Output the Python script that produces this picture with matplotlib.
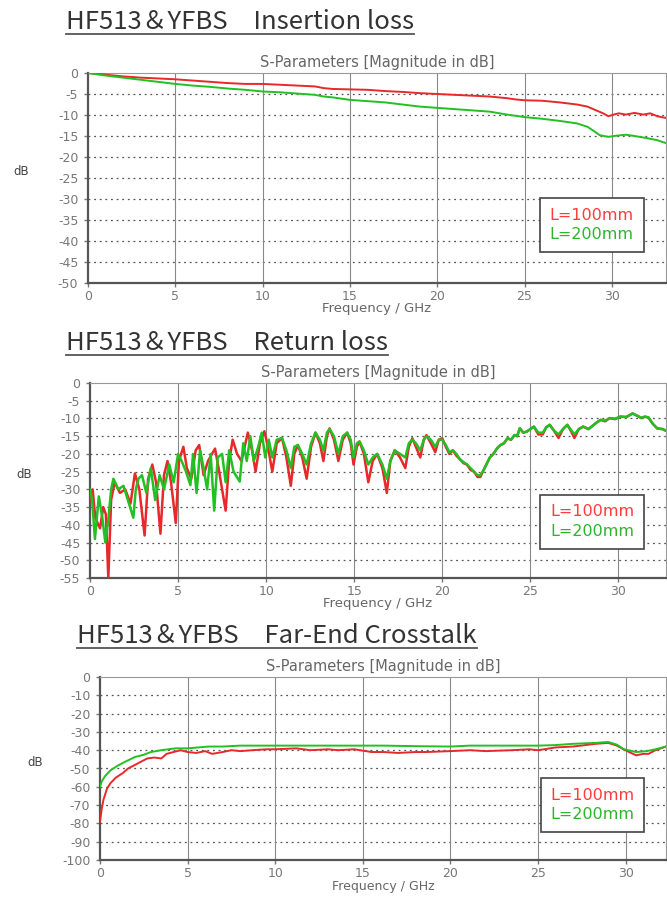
import matplotlib
matplotlib.use('Agg')
import matplotlib.pyplot as plt
from matplotlib.lines import Line2D

# Insertion loss
il_freq_100 = [0, 1, 2, 3, 4, 5, 6, 7, 8, 9, 10, 11, 12, 13, 13.5, 14, 15, 16, 17, 18, 19, 20, 21, 22, 23, 24,
               24.5, 25, 26, 27, 28, 28.6, 29.1, 29.5, 29.8, 30.1, 30.4, 30.8, 31.3, 31.8, 32.2, 32.6, 33.1]
il_db_100 = [0, -0.4, -0.8, -1.1, -1.3, -1.5, -1.8, -2.1, -2.4, -2.6, -2.6, -2.8, -3.0, -3.2, -3.6, -3.8, -3.9,
             -4.0, -4.3, -4.5, -4.8, -5.0, -5.2, -5.4, -5.6, -6.0, -6.3, -6.5, -6.6, -7.0, -7.5, -8.0, -8.9,
             -9.6, -10.3, -9.9, -9.6, -9.9, -9.5, -9.9, -9.6, -10.3, -10.7]
il_freq_200 = [0, 1, 2, 3, 4, 5, 6, 7, 8, 9, 10, 11, 12, 13, 13.5, 14, 15, 16, 17, 18, 19, 20, 21, 22, 23, 24,
               25, 26, 27, 28, 28.6, 29.0, 29.3, 29.8, 30.3, 30.8, 31.3, 32.0, 32.6, 33.1]
il_db_200 = [0, -0.6, -1.1, -1.6, -2.1, -2.6, -3.0, -3.3, -3.7, -4.0, -4.4, -4.6, -4.9, -5.2, -5.6, -5.8, -6.4,
             -6.7, -7.0, -7.5, -8.0, -8.3, -8.6, -8.9, -9.2, -9.9, -10.5, -10.9, -11.4, -12.0, -12.8, -13.9,
             -14.8, -15.2, -14.9, -14.7, -15.0, -15.5, -16.0, -16.7]

# Return loss
rl_freq_100 = [0.0, 0.15, 0.3, 0.57, 0.75, 0.9, 1.04, 1.2, 1.4, 1.7, 2.0, 2.3, 2.55, 2.8, 3.1, 3.3, 3.54, 3.75,
               4.0, 4.2, 4.4, 4.6, 4.87, 5.05, 5.3, 5.5, 5.75, 6.0, 6.2, 6.45, 6.7, 7.1, 7.3, 7.7, 7.9, 8.1,
               8.35, 8.6, 8.96, 9.2, 9.4, 9.65, 9.9, 10.1, 10.35, 10.6, 10.9, 11.15, 11.4, 11.6, 11.8, 12.05,
               12.3, 12.55, 12.8, 13.05, 13.25, 13.45, 13.6, 13.85, 14.1, 14.35, 14.6, 14.8, 14.96, 15.15,
               15.3, 15.55, 15.8, 16.05, 16.3, 16.6, 16.85, 17.05, 17.3, 17.6, 17.9, 18.1, 18.3, 18.5, 18.75,
               18.95, 19.1, 19.35, 19.6, 19.8, 20.0, 20.2, 20.4, 20.6, 20.8, 21.0, 21.2, 21.4, 21.6, 21.8,
               22.0, 22.16, 22.3, 22.5, 22.7, 22.9, 23.1, 23.3, 23.5, 23.7, 23.9, 24.1, 24.25, 24.4, 24.6,
               24.8, 25.0, 25.2, 25.45, 25.7, 25.9, 26.1, 26.35, 26.6, 26.85, 27.1, 27.3, 27.5, 27.75, 28.0,
               28.3, 28.6, 28.8, 29.0, 29.25, 29.5, 29.8, 30.1, 30.45, 30.8, 31.05, 31.3, 31.5, 31.7, 31.95,
               32.2, 32.5, 32.8]
rl_db_100 = [-33, -30, -38, -41, -35, -37, -55, -33, -28, -31, -30, -34, -25.5, -30, -43, -27, -23, -28,
             -42.5, -26, -22, -28, -39.5, -22, -18, -24, -27, -19, -17.5, -26, -22, -18.5, -24, -36, -22, -16,
             -20, -22, -14, -19, -25, -17, -13.6, -18, -25, -17, -15.5, -21, -29, -20, -17.5, -21,
             -27, -18, -14, -17, -22, -15, -12.8, -16, -22, -16, -14, -17, -23, -18,
             -16.5, -20, -28, -22, -20, -24, -31, -22, -19, -21, -24, -18, -15.6, -18, -21,
             -16, -14.7, -17, -19.5, -16, -15.6, -18, -20, -19, -20.5, -21.5, -22.6, -23, -24.5, -25,
             -26.5, -26.5, -25, -23, -21, -20, -18.5, -17.5, -17, -15.6, -16, -14.7, -15, -12.8, -14,
             -13.7, -13, -12.3, -14.5, -14.5, -12.5, -11.8, -13.5, -15.5, -13, -11.8, -13.5, -15.5, -13, -12.3,
             -13, -11.8, -11, -10.4, -10.8, -9.9, -10.2, -9.5, -9.6, -8.6, -9.2, -9.9, -9.5, -9.7, -11.5,
             -12.8, -13, -13.7]
rl_freq_200 = [0.0, 0.12, 0.28, 0.5, 0.7, 0.87, 1.05, 1.2, 1.33, 1.6, 1.9, 2.18, 2.46, 2.6, 2.75, 2.95, 3.2,
               3.45, 3.7, 3.95, 4.2, 4.5, 4.75, 5.0, 5.2, 5.45, 5.7, 5.85, 6.05, 6.25, 6.45, 6.65, 6.85, 7.05,
               7.25, 7.5, 7.7, 7.9, 8.15, 8.5, 8.7, 8.9, 9.1, 9.3, 9.55, 9.75, 9.95, 10.15, 10.35, 10.6, 10.9,
               11.15, 11.4, 11.6, 11.8, 12.05, 12.3, 12.55, 12.8, 13.05, 13.25, 13.45, 13.6, 13.85, 14.1,
               14.35, 14.6, 14.8, 14.96, 15.15, 15.3, 15.55, 15.8, 16.05, 16.3, 16.6, 16.85, 17.05, 17.3,
               17.6, 17.9, 18.1, 18.3, 18.5, 18.75, 18.95, 19.1, 19.35, 19.6, 19.8, 20.0, 20.2, 20.4, 20.6,
               20.8, 21.0, 21.2, 21.4, 21.6, 21.8, 22.0, 22.16, 22.3, 22.5, 22.7, 22.9, 23.1, 23.3, 23.5,
               23.7, 23.9, 24.1, 24.25, 24.4, 24.6, 24.8, 25.0, 25.2, 25.45, 25.7, 25.9, 26.1, 26.35, 26.6,
               26.85, 27.1, 27.3, 27.5, 27.75, 28.0, 28.3, 28.6, 28.8, 29.0, 29.25, 29.5, 29.8, 30.1, 30.45,
               30.8, 31.05, 31.3, 31.5, 31.7, 31.95, 32.2, 32.5, 32.8]
rl_db_200 = [-30, -33, -44, -32, -38, -45, -38, -30, -27, -30, -29, -33.5, -38, -30, -27, -26, -31,
             -24, -33, -26, -30, -23, -28, -20, -22, -25, -28.8, -20, -31, -19, -24, -30, -20, -36,
             -21, -20, -28, -19, -25, -27.8, -17, -22, -15, -22, -18, -14, -21, -16, -21, -16, -15.5,
             -19, -24, -18, -17.5, -20, -23, -17, -14, -16, -19, -14, -13, -15, -20,
             -15, -14, -16, -21, -17, -16.5, -19, -23, -21, -20, -23, -27, -22, -19,
             -20, -21, -17, -16, -17, -19, -16, -15, -16, -18, -16, -16, -17.5, -19.5, -19,
             -20, -21.5, -22.3, -23, -24, -25, -26, -26, -25, -23, -21, -20, -18.5, -17.5, -17,
             -15.6, -16, -14.7, -15, -12.8, -14, -13.7, -13, -12.3, -14, -14, -12.5, -11.8, -13.5, -14.5,
             -13, -11.8, -13.2, -14.5, -13, -12.3, -13, -11.8, -11, -10.4, -10.6, -9.9, -10.1, -9.5, -9.6,
             -8.6, -9.2, -9.8, -9.5, -9.7, -11.5, -12.8, -13, -13.7]

# Far-end crosstalk
xt_freq_100 = [0, 0.1, 0.2, 0.4, 0.6, 0.9, 1.3, 1.6, 2.0, 2.4, 2.7, 3.1, 3.5, 3.8, 4.2, 4.6, 5.0, 5.5, 6.0,
               6.4, 7, 7.5, 8, 8.7, 9.5, 10, 11.2, 12, 13, 13.6, 14.5, 15.5, 16.2, 17, 18, 18.6, 20, 21.1,
               22, 23.5, 24.5, 25, 26, 27, 28.3, 29.0, 29.5, 29.9, 30.3, 30.6, 31.0, 31.3, 31.7, 32.0, 32.3]
xt_db_100 = [-79, -72, -67, -61, -58, -55, -52.5, -50, -48, -46, -44.5, -44, -44.5, -42, -41, -40, -41, -41.5,
             -40.5, -42, -41, -40, -40.5, -40, -39.5, -39.5, -39, -40, -39.5, -40, -39.5, -41, -41, -41.5, -41,
             -41, -40.5, -40, -40.5, -40, -39.5, -40, -38.5, -38, -36.5, -36, -37.5, -39.6, -41.5, -42.8, -42,
             -42, -40, -39, -38]
xt_freq_200 = [0, 0.1, 0.3, 0.6, 1.0, 1.5, 2.0, 2.5, 2.9, 3.5, 4.3, 5, 6.2, 7, 8, 9, 10, 11.2, 13, 14, 16.2,
               18, 20, 21.1, 23, 25, 26, 27, 28.3, 29.0, 29.5, 29.9, 30.6, 31.2, 31.7, 32.3]
xt_db_200 = [-60, -57, -54, -51, -48.5, -46, -43.7, -42.5, -41, -40, -39, -39, -38, -38, -37.5, -37.5, -37.5,
             -37.5, -37.5, -37.5, -37.5, -37.8, -38, -37.5, -37.5, -37.5, -37.2, -36.5, -36, -35.5, -37, -39.5,
             -41, -40.5, -39.5, -38]

titles = ['HF513＆YFBS\u3000Insertion loss', 'HF513＆YFBS\u3000Return loss', 'HF513＆YFBS\u3000Far-End Crosstalk']
labels = ['L=100mm', 'L=200mm']

RED = '#e8282a'
GREEN = '#22c022'

fig = plt.figure(figsize=(6.67, 8.97), dpi=100)
W, H = 667, 897


def px_axes(left, top, right, bottom):
    return fig.add_axes([left / W, 1 - bottom / H, (right - left) / W, (bottom - top) / H])


def style(ax, xmax, ymin, ystep):
    ax.set_xlim(0, xmax)
    ax.set_ylim(ymin, 0)
    ax.set_xticks(range(0, 35, 5))
    ax.set_yticks(range(0, ymin - 1, -ystep))
    ax.set_xticklabels([str(v) for v in range(0, 35, 5)])
    ax.set_yticklabels([str(v) for v in range(0, ymin - 1, -ystep)])
    ax.tick_params(labelsize=9, colors='#777', length=3, width=1, pad=4)
    ax.tick_params(axis='x', pad=2)
    for lab in ax.get_xticklabels() + ax.get_yticklabels():
        lab.set_color('#777')
    for yv in range(-ystep, ymin - 1, -ystep):
        ax.axhline(yv, color='#555', lw=0.9, ls=(0, (1.5, 3)), zorder=1)
    for xv in range(5, 35, 5):
        ax.axvline(xv, color='#888', lw=0.8, zorder=1)
    ax.spines['left'].set_color('#555')
    ax.spines['left'].set_linewidth(1.6)
    ax.spines['bottom'].set_color('#555')
    ax.spines['bottom'].set_linewidth(1.6)
    ax.spines['top'].set_color('#999')
    ax.spines['right'].set_color('#999')
    ax.set_title('S-Parameters [Magnitude in dB]', fontsize=10.5, color='#666', pad=4)
    ax.set_xlabel('Frequency / GHz', fontsize=9.5, color='#666', labelpad=-1)
    ax.set_ylabel('dB', fontsize=8.5, color='#444', rotation=0, labelpad=0)
    ax.yaxis.set_label_coords(-0.115, 0.5)
    handles = [Line2D([], [], color='none'), Line2D([], [], color='none')]
    leg = ax.legend(handles, labels, loc='lower right', bbox_to_anchor=(0.975, 0.11), fontsize=11.5,
                    handlelength=0, handletextpad=0, labelcolor=['#ff3b3b', '#2db52d'], fancybox=False,
                    edgecolor='#444', framealpha=1, borderpad=0.6, labelspacing=0.3)
    leg.get_frame().set_linewidth(1.2)


ax1 = px_axes(88, 73, 666, 283)
ax1.plot(il_freq_100, il_db_100, color=RED, lw=1.4, zorder=3)
ax1.plot(il_freq_200, il_db_200, color=GREEN, lw=1.4, zorder=3)
style(ax1, 33.1, -50, 5)

ax2 = px_axes(90, 383, 666, 578)
ax2.plot(rl_freq_100, rl_db_100, color=RED, lw=1.8, zorder=3)
ax2.plot(rl_freq_200, rl_db_200, color=GREEN, lw=1.8, zorder=3)
style(ax2, 32.7, -55, 5)

ax3 = px_axes(100, 677, 666, 860)
ax3.plot(xt_freq_100, xt_db_100, color=RED, lw=1.4, zorder=3)
ax3.plot(xt_freq_200, xt_db_200, color=GREEN, lw=1.4, zorder=3)
style(ax3, 32.3, -100, 10)
ax3.set_xlabel('Frequency / GHz', fontsize=9, color='#666', labelpad=0)

title_pos = [(66, 22), (66, 343), (77, 636)]
title_objs = []
for (x, y), t in zip(title_pos, titles):
    title_objs.append(fig.text(x / W, 1 - y / H, t, fontsize=18.5, color='#333', va='center', ha='left',
                               family=['Noto Sans CJK JP', 'DejaVu Sans']))

fig.canvas.draw()
r = fig.canvas.get_renderer()
for t in title_objs:
    bb = t.get_window_extent(r)
    yl = (bb.y0 + 1) / H
    fig.add_artist(Line2D([bb.x0 / W, bb.x1 / W], [yl, yl], color='#555', lw=1.3))

fig.savefig('out.png', dpi=100)
